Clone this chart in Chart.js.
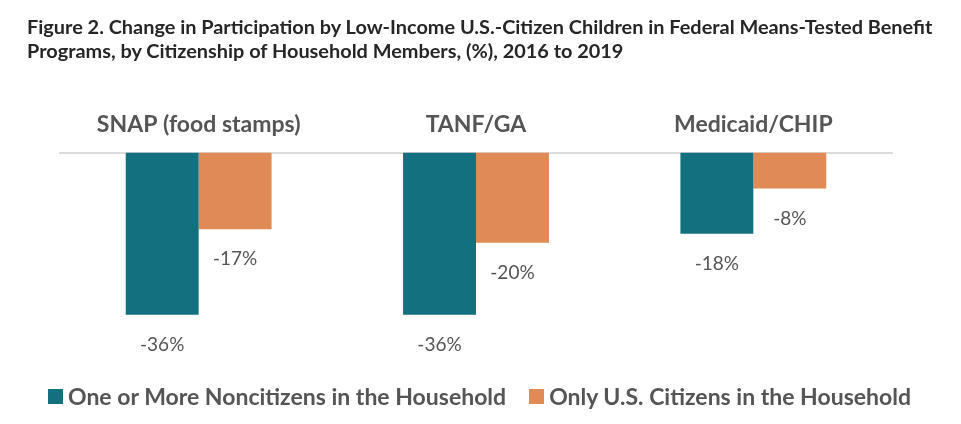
<!DOCTYPE html>
<html>
<head>
    <title>Change in Participation by Low-Income U.S.-Citizen Children</title>
    <script src="https://cdn.jsdelivr.net/npm/chart.js@4/dist/chart.umd.min.js"></script>
    <style>
        body { margin: 0; background: #fff; }
        #wrap { position: relative; width: 961px; height: 424px; }
        #title {
            position: absolute; left: 27px; top: 14px;
            font-family: Lato, sans-serif; font-weight: 700; font-size: 19.9px;
            line-height: 24px; color: #262626;
        }
        #legend {
            position: absolute; left: 48px; top: 382px; height: 28px;
            display: flex; align-items: center; gap: 23px;
            font-family: Lato, sans-serif; font-weight: 700; font-size: 23px;
            color: #555; white-space: nowrap;
        }
        #legend span.box { display: inline-block; width: 15px; height: 15px; margin-right: 5px; }
        #legend div { display: flex; align-items: center; }
    </style>
</head>

<body>
    <div id="wrap">
        <canvas id="barChart" width="961" height="424"></canvas>
        <div id="title">Figure 2. Change in Participation by Low-Income U.S.-Citizen Children in Federal Means-Tested Benefit<br>Programs, by Citizenship of Household Members, (%), 2016 to 2019</div>
        <div id="legend"></div>
    </div>

    <script>
        var programs = ["SNAP (food stamps)", "TANF/GA", "Medicaid/CHIP"];
        var seriesNames = ["One or More Noncitizens in the Household", "Only U.S. Citizens in the Household"];
        var noncitizenValues = [-36, -36, -18];
        var citizenValues = [-17, -20, -8];
        var colors = ["#13717f", "#e08b55"];

        //value labels under each bar
        var valueLabels = {
            id: "valueLabels",
            afterDatasetsDraw: function(chart) {
                var ctx = chart.ctx;
                ctx.save();
                ctx.font = "19px Lato";
                ctx.fillStyle = "#555";
                ctx.textAlign = "center";
                ctx.textBaseline = "middle";
                chart.data.datasets.forEach(function(ds, i) {
                    chart.getDatasetMeta(i).data.forEach(function(bar, j) {
                        ctx.fillText(ds.data[j] + "%", bar.x, bar.y + 30);
                    });
                });
                ctx.restore();
            }
        };

        var chart = new Chart("barChart", {
            type: "bar",
            data: {
                labels: programs,
                datasets: [{
                    label: seriesNames[0],
                    backgroundColor: colors[0],
                    data: noncitizenValues
                }, {
                    label: seriesNames[1],
                    backgroundColor: colors[1],
                    data: citizenValues
                }]
            },
            options: {
                responsive: false,
                animation: false,
                layout: { padding: { top: 97, left: 60, right: 69, bottom: 44 } },
                datasets: { bar: { categoryPercentage: 0.526, barPercentage: 1 } },
                plugins: {
                    tooltip: { enabled: false },
                    legend: { display: false }
                },
                scales: {
                    x: {
                        position: "top",
                        grid: { display: false, drawTicks: false },
                        border: { color: "#dddddd", width: 2 },
                        ticks: {
                            padding: 14,
                            color: "#555",
                            font: { family: "Lato", size: 23, weight: "bold" }
                        }
                    },
                    y: {
                        display: false,
                        min: -50.5,
                        max: 0
                    }
                }
            },
            plugins: [valueLabels]
        });

        //Legend

        var legend = document.getElementById("legend");
        chart.data.datasets.forEach(function(ds) {
            var item = document.createElement("div");
            var box = document.createElement("span");
            box.className = "box";
            box.style.background = ds.backgroundColor;
            item.appendChild(box);
            item.appendChild(document.createTextNode(ds.label));
            legend.appendChild(item);
        });
    </script>
</body>
</html>
